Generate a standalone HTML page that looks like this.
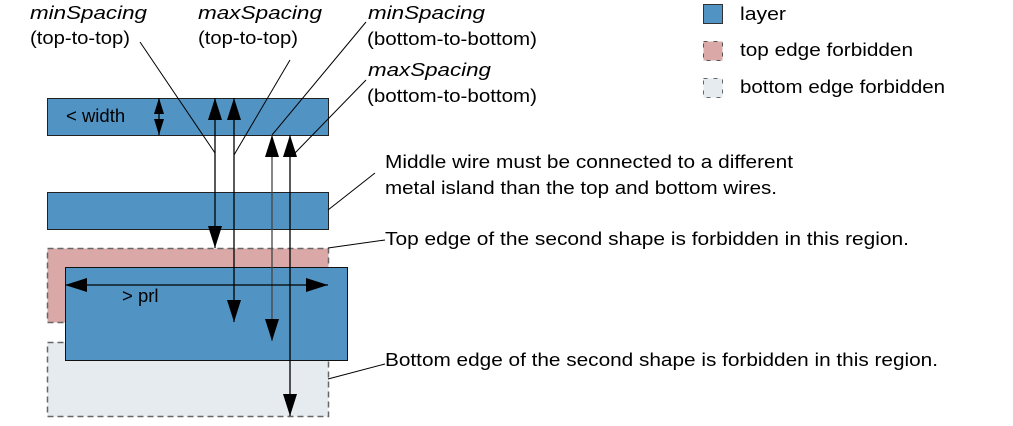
<!DOCTYPE html>
<html><head><meta charset="utf-8"><style>
html,body{margin:0;padding:0;background:#fff;}
svg{display:block;}
text{font-family:"Liberation Sans",sans-serif;font-size:18.5px;fill:#000;}
.i{font-style:italic;}
</style></head><body>
<svg width="1013" height="426" viewBox="0 0 1013 426" xmlns="http://www.w3.org/2000/svg">
<defs>
<marker id="a" viewBox="0 0 22 14" refX="22" refY="7" markerWidth="22" markerHeight="14" markerUnits="userSpaceOnUse" orient="auto-start-reverse"><path d="M0,0 L22,7 L0,14 Z" fill="#000"/></marker>
<marker id="s" viewBox="0 0 16 10" refX="16" refY="5" markerWidth="16" markerHeight="10" markerUnits="userSpaceOnUse" orient="auto-start-reverse"><path d="M0,0 L16,5 L0,10 Z" fill="#000"/></marker>
</defs>
<rect x="47.5" y="248.5" width="281" height="74" fill="#dba8a8" stroke="#666" stroke-width="1.5" stroke-dasharray="6,4"/>
<rect x="47.5" y="342.5" width="281" height="74" fill="#e6ebef" stroke="#666" stroke-width="1.5" stroke-dasharray="6,4"/>
<rect x="47.5" y="98.5" width="281" height="37" fill="#5193c3" stroke="#222" stroke-width="1"/>
<rect x="47.5" y="192.5" width="281" height="37" fill="#5193c3" stroke="#222" stroke-width="1"/>
<rect x="65.5" y="267.5" width="282" height="93" fill="#5193c3" stroke="#111" stroke-width="1"/>
<rect x="703.5" y="4.5" width="19" height="19" fill="#5193c3" stroke="#333"/>
<rect x="703.5" y="41.5" width="19" height="19" fill="#dba8a8" stroke="#555" stroke-dasharray="4,6"/>
<rect x="703.5" y="78.5" width="19" height="19" fill="#e6ebef" stroke="#666" stroke-dasharray="4,6"/>
<text x="740" y="20" textLength="46" lengthAdjust="spacingAndGlyphs">layer</text>
<text x="740" y="56" textLength="173" lengthAdjust="spacingAndGlyphs">top edge forbidden</text>
<text x="740" y="93" textLength="205" lengthAdjust="spacingAndGlyphs">bottom edge forbidden</text>
<g stroke="#000" stroke-width="1.3" fill="none">
<line x1="159" y1="98" x2="159" y2="135" marker-start="url(#s)" marker-end="url(#s)"/>
<line x1="215" y1="98" x2="215" y2="248" marker-start="url(#a)" marker-end="url(#a)"/>
<line x1="234" y1="98" x2="234" y2="322" marker-start="url(#a)" marker-end="url(#a)"/>
<line x1="272" y1="135" x2="272" y2="341" marker-start="url(#a)" marker-end="url(#a)" stroke="#444"/>
<line x1="290" y1="135" x2="290" y2="416" marker-start="url(#a)" marker-end="url(#a)"/>
<line x1="65" y1="285" x2="328" y2="285" marker-start="url(#a)" marker-end="url(#a)"/>
</g>
<g stroke="#000" stroke-width="1" fill="none">
<line x1="140" y1="42" x2="215" y2="153"/>
<line x1="290" y1="60" x2="234" y2="155"/>
<line x1="366" y1="22" x2="272" y2="135"/>
<line x1="366" y1="80" x2="295" y2="153"/>
<line x1="375" y1="173" x2="328" y2="210"/>
<line x1="385" y1="240" x2="328" y2="248"/>
<line x1="385" y1="364" x2="328" y2="379"/>
</g>
<text class="i" x="30" y="19" textLength="117" lengthAdjust="spacingAndGlyphs">minSpacing</text>
<text x="30" y="44" textLength="100" lengthAdjust="spacingAndGlyphs">(top-to-top)</text>
<text class="i" x="198" y="19" textLength="124" lengthAdjust="spacingAndGlyphs">maxSpacing</text>
<text x="198" y="44" textLength="100" lengthAdjust="spacingAndGlyphs">(top-to-top)</text>
<text class="i" x="368" y="19" textLength="117" lengthAdjust="spacingAndGlyphs">minSpacing</text>
<text x="367" y="45" textLength="170" lengthAdjust="spacingAndGlyphs">(bottom-to-bottom)</text>
<text class="i" x="368" y="76" textLength="123" lengthAdjust="spacingAndGlyphs">maxSpacing</text>
<text x="367" y="102" textLength="170" lengthAdjust="spacingAndGlyphs">(bottom-to-bottom)</text>
<text x="66" y="122">&lt; width</text>
<text x="122" y="302">&gt; prl</text>
<text x="385" y="168" textLength="408" lengthAdjust="spacingAndGlyphs">Middle wire must be connected to a different</text>
<text x="385" y="194" textLength="392" lengthAdjust="spacingAndGlyphs">metal island than the top and bottom wires.</text>
<text x="385" y="245" textLength="524" lengthAdjust="spacingAndGlyphs">Top edge of the second shape is forbidden in this region.</text>
<text x="385" y="366" textLength="553" lengthAdjust="spacingAndGlyphs">Bottom edge of the second shape is forbidden in this region.</text>
</svg>
</body></html>
